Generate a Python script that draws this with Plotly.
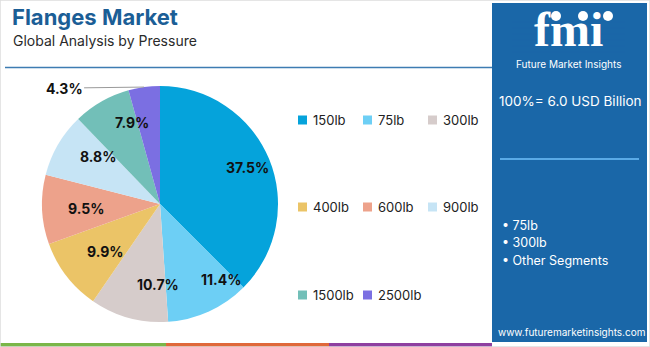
import math
import plotly.graph_objects as go

# Segment shares of the flanges market by pressure class
categories = ["150lb", "75lb", "300lb", "400lb", "600lb", "900lb", "1500lb", "2500lb"]
shares = [37.5, 11.4, 10.7, 9.9, 9.5, 8.8, 7.9, 4.3]
colors = ["#05a3db", "#6dcff5", "#d6cccb", "#ebc467", "#eda28b", "#c6e4f5", "#72bfb8", "#7b6fe2"]

title_text = "Flanges Market"
subtitle_text = "Global Analysis by Pressure"
total_text = "100%= 6.0 USD Billion"
highlights = ["75lb", "300lb", "Other Segments"]
site_text = "www.futuremarketinsights.com"

W, H = 650, 347
FONT = "Inter"
PANEL = "#1a67a8"

# pie geometry in pixels
cx, cy, R = 160, 204, 118


def px(x):
    return x / W


def py(y):
    return 1 - y / H


fig = go.Figure()
fig.add_trace(go.Pie(
    labels=categories,
    values=shares,
    marker=dict(colors=colors, line=dict(width=0)),
    sort=False,
    direction="clockwise",
    rotation=0,
    textinfo="none",
    hoverinfo="label+percent",
    showlegend=False,
    domain=dict(x=[px(cx - R), px(cx + R)], y=[py(cy + R), py(cy - R)]),
))

annotations = []
shapes = []

# percentage labels placed at each slice's mid angle
total = sum(shares)
cum = 0.0
for i, v in enumerate(shares):
    mid = 2 * math.pi * (cum + v / 2) / total
    cum += v
    label = f"{v:.1f}%"
    if v < 5:
        ex = cx + R * math.sin(mid)
        ey = cy - R * math.cos(mid)
        annotations.append(dict(
            x=px(ex), y=py(ey), xref="paper", yref="paper",
            text=f"<b>{label}</b>", showarrow=True, arrowhead=0, arrowwidth=1,
            arrowcolor="#9a9a9a", standoff=0, ax=-80, ay=1,
            font=dict(family=FONT, size=14, color="#111111"),
        ))
    else:
        rr = 0.8 * R
        lx = cx + rr * math.sin(mid)
        ly = cy - rr * math.cos(mid)
        annotations.append(dict(
            x=px(lx), y=py(ly), xref="paper", yref="paper",
            text=f"<b>{label}</b>", showarrow=False,
            font=dict(family=FONT, size=14, color="#111111"),
        ))

# legend grid: 3 columns, rows spaced evenly
col_x = [298, 363, 428]
row_y = [120, 207, 295]
for i, (cat, col) in enumerate(zip(categories, colors)):
    r, c = divmod(i, 3)
    x0, y0 = col_x[c], row_y[r]
    shapes.append(dict(type="rect", xref="paper", yref="paper",
                       x0=px(x0), x1=px(x0 + 9), y0=py(y0 + 4.5), y1=py(y0 - 4.5),
                       fillcolor=col, line=dict(width=0)))
    annotations.append(dict(x=px(x0 + 13), y=py(y0), xref="paper", yref="paper",
                            xanchor="left", yanchor="middle", showarrow=False,
                            text=cat, font=dict(family=FONT, size=13, color="#222222")))

# title block
annotations.append(dict(x=px(10), y=py(2), xref="paper", yref="paper", xanchor="left", yanchor="top",
                        showarrow=False, text=f"<b>{title_text}</b>",
                        font=dict(family=FONT, size=22, color="#1b5e96")))
annotations.append(dict(x=px(11), y=py(30), xref="paper", yref="paper", xanchor="left", yanchor="top",
                        showarrow=False, text=subtitle_text,
                        font=dict(family=FONT, size=14, color="#2a2a2a")))
shapes.append(dict(type="line", xref="paper", yref="paper", x0=px(5), x1=px(492), y0=py(67.5), y1=py(67.5),
                   line=dict(color="#3d7cb2", width=1.5)))

# right information panel
shapes.append(dict(type="rect", xref="paper", yref="paper", x0=px(492), x1=px(647), y0=py(342), y1=py(3),
                   fillcolor=PANEL, line=dict(width=0), layer="below"))
annotations.append(dict(x=px(568), y=py(30), xref="paper", yref="paper", xanchor="center", yanchor="middle",
                        showarrow=False, text="<b>fmi</b>",
                        font=dict(family="Liberation Serif", size=48, color="white")))
for k in range(6):
    yy = 22 + k * 6
    shapes.append(dict(type="line", xref="paper", yref="paper", x0=px(512), x1=px(625),
                       y0=py(yy), y1=py(yy), line=dict(color=PANEL, width=1.2)))
for ix in [556, 583, 608]:
    shapes.append(dict(type="circle", xref="paper", yref="paper", x0=px(ix - 5), x1=px(ix + 5),
                       y0=py(21), y1=py(11), fillcolor="white", line=dict(width=0)))
annotations.append(dict(x=px(568), y=py(64), xref="paper", yref="paper", xanchor="center", yanchor="middle",
                        showarrow=False, text="Future Market Insights",
                        font=dict(family=FONT, size=10, color="white")))
annotations.append(dict(x=px(570), y=py(101), xref="paper", yref="paper", xanchor="center", yanchor="middle",
                        showarrow=False, text=total_text,
                        font=dict(family=FONT, size=13.5, color="white")))
shapes.append(dict(type="line", xref="paper", yref="paper", x0=px(500), x1=px(639), y0=py(159), y1=py(159),
                   line=dict(color="#5aaae6", width=2)))
for k, h in enumerate(highlights):
    annotations.append(dict(x=px(500), y=py(225 + k * 17.5), xref="paper", yref="paper",
                            xanchor="left", yanchor="middle", showarrow=False, text="• " + h,
                            font=dict(family=FONT, size=12.5, color="white")))
annotations.append(dict(x=px(571), y=py(332), xref="paper", yref="paper", xanchor="center", yanchor="middle",
                        showarrow=False, text=site_text,
                        font=dict(family=FONT, size=10, color="white")))

# bottom colour strip
for x0, x1, col in [(0, 166, "#7ab648"), (166, 329, "#e0683a"), (329, 492, "#8e3fa0")]:
    shapes.append(dict(type="rect", xref="paper", yref="paper", x0=px(x0), x1=px(x1), y0=0, y1=py(343),
                       fillcolor=col, line=dict(width=0)))

# thin frame
shapes.append(dict(type="rect", xref="paper", yref="paper", x0=0, x1=1, y0=0, y1=1,
                   line=dict(color="#dddddd", width=1.5), layer="above"))

fig.update_layout(
    width=W, height=H, autosize=False,
    margin=dict(l=0, r=0, t=0, b=0),
    paper_bgcolor="white", plot_bgcolor="white",
    showlegend=False,
    annotations=annotations, shapes=shapes,
)

fig.write_html("out.html")
